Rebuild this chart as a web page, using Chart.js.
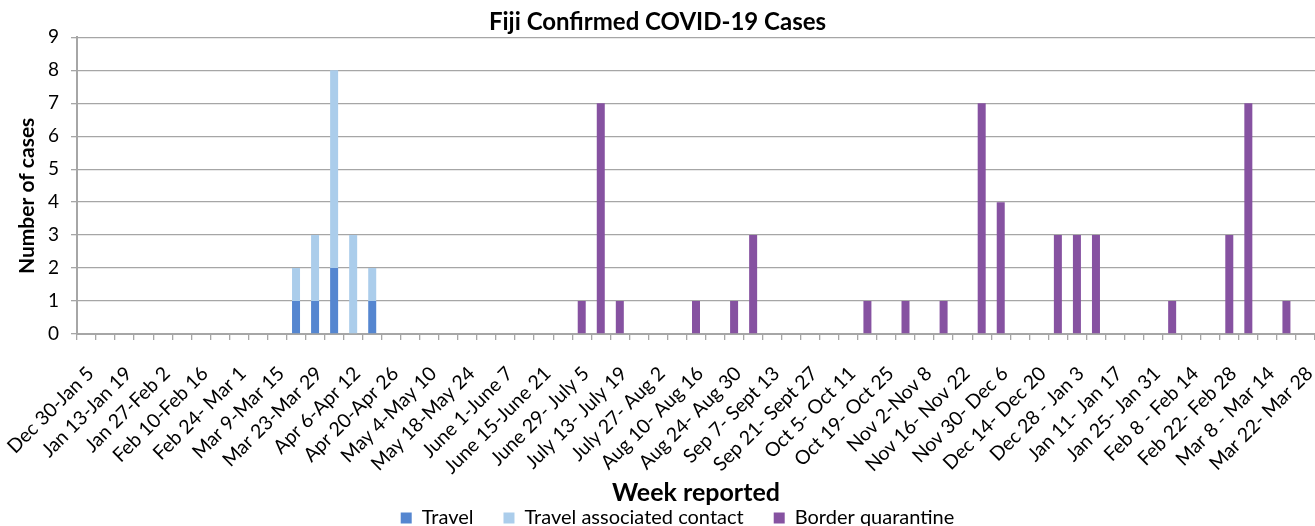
<!DOCTYPE html>
<html lang="en">
  <head>
    <meta charset="UTF-8" />
    <title>Fiji Confirmed COVID-19 Cases</title>
    <script src="https://cdn.jsdelivr.net/npm/chart.js@4.4.0/dist/chart.umd.min.js"></script>
    <style>
      html,
      body {
        margin: 0;
        padding: 0;
        background: #fff;
        overflow: hidden;
      }
      .chart-container {
        position: relative;
        width: 1315px;
        height: 538px;
      }
    </style>
  </head>
  <body>
    <div class="chart-container">
      <canvas id="chart"></canvas>
    </div>
  </body>
  <script>
    // week reported (labels for odd weeks are hidden on the axis)
    const weeks = [
      "Dec 30-Jan 5", "Jan 6-Jan 12", "Jan 13-Jan 19", "Jan 20-Jan 26",
      "Jan 27-Feb 2", "Feb 3-Feb 9", "Feb 10-Feb 16", "Feb 17-Feb 23",
      "Feb 24- Mar 1", "Mar 2-Mar 8", "Mar 9-Mar 15", "Mar 16-Mar 22",
      "Mar 23-Mar 29", "Mar 30-Apr 5", "Apr 6-Apr 12", "Apr 13-Apr 19",
      "Apr 20-Apr 26", "Apr 27-May 3", "May 4-May 10", "May 11-May 17",
      "May 18-May 24", "May 25-May 31", "June 1-June 7", "June 8-June 14",
      "June 15-June 21", "June 22-June 28", "June 29- July 5", "July 6- July 12",
      "July 13- July 19", "July 20- July 26", "July 27- Aug 2", "Aug 3- Aug 9",
      "Aug 10- Aug 16", "Aug 17- Aug 23", "Aug 24- Aug 30", "Aug 31- Sept 6",
      "Sep 7- Sept 13", "Sep 14- Sept 20", "Sep 21- Sept 27", "Sep 28- Oct 4",
      "Oct 5- Oct 11", "Oct 12- Oct 18", "Oct 19- Oct 25", "Oct 26- Nov 1",
      "Nov 2-Nov 8", "Nov 9-Nov 15", "Nov 16- Nov 22", "Nov 23- Nov 29",
      "Nov 30- Dec 6", "Dec 7- Dec 13", "Dec 14- Dec 20", "Dec 21- Dec 27",
      "Dec 28 - Jan 3", "Jan 4- Jan 10", "Jan 11- Jan 17", "Jan 18- Jan 24",
      "Jan 25- Jan 31", "Feb 1- Feb 7", "Feb 8 - Feb 14", "Feb 15- Feb 21",
      "Feb 22- Feb 28", "Mar 1- Mar 7", "Mar 8 - Mar 14", "Mar 15- Mar 21",
      "Mar 22- Mar 28",
    ];

    const travel = [
      0, 0, 0, 0, 0, 0, 0, 0, 0, 0,
      0, 1, 1, 2, 0, 1, 0, 0, 0, 0,
      0, 0, 0, 0, 0, 0, 0, 0, 0, 0,
      0, 0, 0, 0, 0, 0, 0, 0, 0, 0,
      0, 0, 0, 0, 0, 0, 0, 0, 0, 0,
      0, 0, 0, 0, 0, 0, 0, 0, 0, 0,
      0, 0, 0, 0, 0,
    ];

    const travelContact = [
      0, 0, 0, 0, 0, 0, 0, 0, 0, 0,
      0, 1, 2, 6, 3, 1, 0, 0, 0, 0,
      0, 0, 0, 0, 0, 0, 0, 0, 0, 0,
      0, 0, 0, 0, 0, 0, 0, 0, 0, 0,
      0, 0, 0, 0, 0, 0, 0, 0, 0, 0,
      0, 0, 0, 0, 0, 0, 0, 0, 0, 0,
      0, 0, 0, 0, 0,
    ];

    const borderQuarantine = [
      0, 0, 0, 0, 0, 0, 0, 0, 0, 0,
      0, 0, 0, 0, 0, 0, 0, 0, 0, 0,
      0, 0, 0, 0, 0, 0, 1, 7, 1, 0,
      0, 0, 1, 0, 1, 3, 0, 0, 0, 0,
      0, 1, 0, 1, 0, 1, 0, 7, 4, 0,
      0, 3, 3, 3, 0, 0, 0, 1, 0, 0,
      3, 7, 0, 1, 0,
    ];

    const yTicks = [0, 1, 2, 3, 4, 5, 6, 7, 8, 9];

    const colors = {
      travel: "#5586d0",
      contact: "#abcdeb",
      border: "#8652a1",
      grid: "#a6a6a6",
    };

    Chart.defaults.font.family = "Lato, 'Open Sans', sans-serif";
    Chart.defaults.color = "#000";

    // the legend row sits a little right of the page centre
    const legendShift = {
      id: "legendShift",
      afterLayout(chart) {
        chart.legend.left += 20;
        chart.legend.right += 20;
      },
    };

    const ctx = document.getElementById("chart").getContext("2d");

    new Chart(ctx, {
      type: "bar",
      data: {
        labels: weeks,
        datasets: [
          {
            label: "Travel",
            data: travel,
            backgroundColor: colors.travel,
          },
          {
            label: "Travel associated contact",
            data: travelContact,
            backgroundColor: colors.contact,
          },
          {
            label: "Border quarantine",
            data: borderQuarantine,
            backgroundColor: colors.border,
          },
        ],
      },
      plugins: [legendShift],
      options: {
        responsive: true,
        maintainAspectRatio: false,
        animation: false,
        layout: { padding: 0 },
        datasets: {
          bar: {
            categoryPercentage: 1,
            barPercentage: 0.42,
            borderWidth: 0,
          },
        },
        plugins: {
          title: {
            display: true,
            text: "Fiji Confirmed COVID-19 Cases",
            font: { size: 24, weight: "bold" },
            padding: { top: 8, bottom: 0.5 },
          },
          legend: {
            position: "bottom",
            labels: {
              boxWidth: 11,
              boxHeight: 11,
              padding: 30,
              font: { size: 20 },
            },
          },
          tooltip: { enabled: false },
        },
        scales: {
          x: {
            stacked: true,
            grid: {
              offset: true,
              drawOnChartArea: false,
              drawTicks: true,
              tickLength: 6,
              color: colors.grid,
              lineWidth: 1.3,
            },
            border: { color: colors.grid, width: 2 },
            ticks: {
              autoSkip: false,
              minRotation: 45,
              maxRotation: 45,
              padding: 22,
              labelOffset: 4,
              font: { size: 19.5 },
              callback: function (value, index) {
                return index % 2 === 0 ? this.getLabelForValue(value) : "";
              },
            },
            title: {
              display: true,
              text: "Week reported",
              font: { size: 25, weight: "bold" },
              padding: { top: 0, bottom: -30 },
            },
            afterFit: (scale) => {
              scale.height = 144;
              scale.paddingLeft = 0;
              scale.paddingRight = 0;
            },
          },
          y: {
            stacked: true,
            min: 0,
            max: 9,
            afterBuildTicks: (scale) => {
              scale.ticks = yTicks.map((v) => ({ value: v }));
            },
            grid: {
              color: colors.grid,
              lineWidth: 1.3,
              tickLength: 6,
            },
            border: { color: colors.grid, width: 2 },
            ticks: {
              padding: 12,
              font: { size: 19 },
            },
            title: {
              display: true,
              text: "Number of cases    ",
              font: { size: 21, weight: "bold" },
              padding: { top: 15, bottom: 0 },
            },
            afterFit: (scale) => {
              scale.width = 77;
            },
          },
        },
      },
    });
  </script>
</html>
